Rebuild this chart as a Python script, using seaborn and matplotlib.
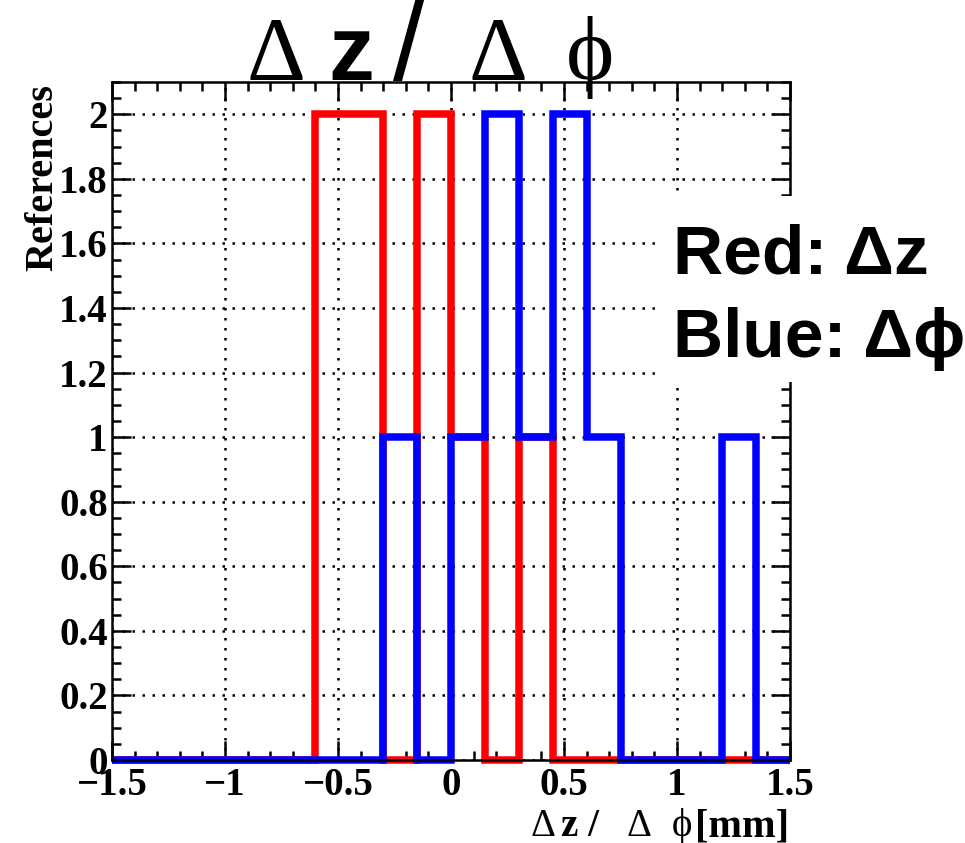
import numpy as np
import pandas as pd
import matplotlib
matplotlib.use("Agg")
import matplotlib.pyplot as plt
from matplotlib.patches import Rectangle
from matplotlib.ticker import MultipleLocator
import seaborn as sns

# Histogram binning (20 bins of 0.15 mm)
bin_edges = [round(-1.5 + 0.15 * i, 2) for i in range(21)]
bin_centers = [round(0.5 * (a + b), 3) for a, b in zip(bin_edges[:-1], bin_edges[1:])]

# Entries per bin
dz_counts = [0, 0, 0, 0, 0, 0, 2, 2, 0, 2, 1, 0, 1, 0, 0, 0, 0, 0, 0, 0]
dphi_counts = [0, 0, 0, 0, 0, 0, 0, 0, 1, 0, 1, 2, 1, 2, 1, 0, 0, 0, 1, 0]

series_names = ["Red: \u0394z", "Blue: \u0394\u03d5"]
series_colors = ["#ff0000", "#0000ff"]

xtick_values = [-1.5, -1, -0.5, 0, 0.5, 1, 1.5]
xtick_labels = ["\u22121.5", "\u22121", "\u22120.5", "0", "0.5", "1", "1.5"]
ytick_values = [0, 0.2, 0.4, 0.6, 0.8, 1, 1.2, 1.4, 1.6, 1.8, 2]
ytick_labels = ["0", "0.2", "0.4", "0.6", "0.8", "1", "1.2", "1.4", "1.6", "1.8", "2"]

y_label = "References"

sns.set_theme(style="white")
plt.rcParams["font.family"] = ["Liberation Serif", "DejaVu Serif"]
plt.rcParams["font.weight"] = "bold"
plt.rcParams["axes.unicode_minus"] = True
plt.rcParams["text.color"] = "black"
plt.rcParams["xtick.color"] = "black"
plt.rcParams["ytick.color"] = "black"

W, H = 965, 843
fig = plt.figure(figsize=(W / 100, H / 100), dpi=100)
fig.patch.set_facecolor("white")


def fx(px):
    return px / W


def fy(py):
    return (H - py) / H


ax = fig.add_axes([fx(112), fy(760), (790 - 112) / W, (760 - 82) / H])
ax.set_facecolor("white")

df = pd.DataFrame({
    "center": bin_centers + bin_centers,
    "count": dz_counts + dphi_counts,
    "series": [series_names[0]] * len(bin_centers) + [series_names[1]] * len(bin_centers),
})

# red first, blue drawn on top of it
for name, color in zip(series_names, series_colors):
    sns.histplot(
        data=df[df["series"] == name], x="center", weights="count",
        bins=bin_edges, element="step", fill=False, color=color,
        linewidth=5.4, ax=ax, clip_on=False, solid_joinstyle="miter",
        solid_capstyle="butt",
    )

ax.set_xlim(-1.5, 1.5)
ax.set_ylim(0, 2.1)
ax.set_xlabel("")
ax.set_ylabel("")

ax.set_xticks(xtick_values, labels=xtick_labels)
ax.set_yticks(ytick_values, labels=ytick_labels)
ax.xaxis.set_minor_locator(MultipleLocator(0.1))
ax.yaxis.set_minor_locator(MultipleLocator(0.05))

ax.tick_params(which="both", direction="in", top=True, right=True,
               bottom=True, left=True, color="black", width=1.8)
ax.tick_params(which="major", length=13.5)
ax.tick_params(which="minor", length=6.8)
ax.tick_params(axis="x", which="major", pad=5, labelsize=28, labelcolor="black")
ax.tick_params(axis="y", which="major", pad=3, labelsize=28, labelcolor="black")

for sp in ax.spines.values():
    sp.set_visible(True)
    sp.set_color("black")
    sp.set_linewidth(1.8)

ax.set_axisbelow(True)
ax.grid(True, which="major", color="black", linestyle=(0, (1, 3)),
        linewidth=1.8, dash_capstyle="butt")

serif = ["Liberation Serif", "DejaVu Serif"]
sans = ["Liberation Sans", "DejaVu Sans"]

# y-axis title
fig.text(fx(43), fy(84), y_label, rotation=90, ha="center", va="top",
         fontsize=29, fontweight="bold", family=serif, color="black")

# main title, mixed fonts
title_pieces = [
    ("\u0394", 247, serif, "normal", 66),
    ("z", 328, sans, "bold", 66),
    ("/", 393, sans, "normal", 82),
    ("\u0394", 469, serif, "normal", 66),
    ("\u03d5", 566, serif, "normal", 66),
]
for txt, x, fam, wt, size in title_pieces:
    fig.text(fx(x), fy(80), txt, ha="left", va="baseline", fontsize=size,
             family=fam, fontweight=wt, color="black")

# x-axis title, mixed fonts
xlabel_pieces = [
    ("\u0394", 531, serif, "normal"),
    ("z /", 561, serif, "bold"),
    ("\u0394", 626, serif, "normal"),
    ("\u03d5", 672, serif, "normal"),
]
for txt, x, fam, wt in xlabel_pieces:
    fig.text(fx(x), fy(836), txt, ha="left", va="baseline", fontsize=28,
             family=fam, fontweight=wt, color="black")
fig.text(fx(789), fy(836), "[mm]", ha="right", va="baseline", fontsize=29,
         family=serif, fontweight="bold", color="black")

# label box
fig.add_artist(Rectangle((fx(662), fy(382)), (W - 662) / W, (382 - 196) / H,
                         transform=fig.transFigure, facecolor="white",
                         edgecolor="none", zorder=5))
for name, base in zip(series_names, [273, 357]):
    fig.text(fx(673), fy(base), name, ha="left", va="baseline", fontsize=50,
             family=sans, fontweight="bold", color="black", zorder=6)

fig.savefig("out.png", dpi=100, facecolor="white")
